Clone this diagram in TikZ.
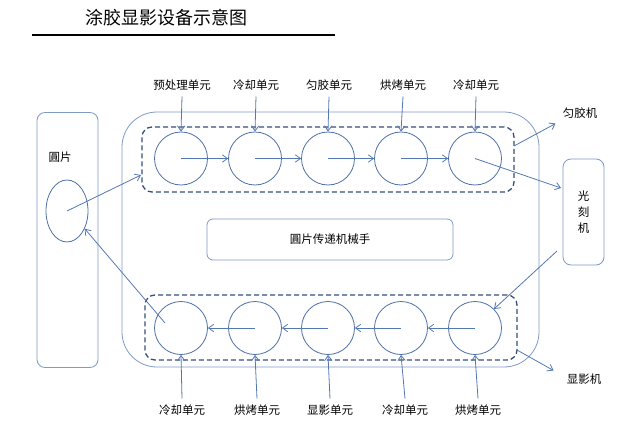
\documentclass[tikz,border=0pt]{standalone}
\usepackage{fontspec}
\newfontfamily\cjk{Noto Sans CJK SC}
\usepackage{xcolor}
\usetikzlibrary{arrows.meta,positioning,shapes.geometric}
\definecolor{ringc}{HTML}{4F6FA8}
\definecolor{arrc}{HTML}{5577B2}
\definecolor{framec}{HTML}{7E9AC6}
\definecolor{dashc}{HTML}{34507A}
\tikzset{
  ar/.style={-{Straight Barb[length=1.8mm,width=2.6mm]},arrc,thick},
  unit/.style={circle,draw=ringc,thick,minimum size=53pt,inner sep=0pt},
  lab/.style={font=\cjk\fontsize{11.5}{13}\selectfont,inner sep=1pt},
  frame/.style={draw=framec,thick,rounded corners=8pt},
  grp/.style={draw=dashc,line width=1.3pt,dash pattern=on 5pt off 3pt,rounded corners=10pt,minimum width=372pt,minimum height=65pt}
}
\begin{document}
\begin{tikzpicture}[x=1pt,y=-1pt]
\useasboundingbox (0,0) rectangle (640,428);
% title
\node[font=\cjk\fontsize{18}{20}\selectfont] (title) at (166,18) {涂胶显影设备示意图};
\draw[line width=1.8pt] (32,35)--(335,35);
% wafer holder
\node[frame,minimum width=61pt,minimum height=255pt] (hold) at (67.5,240) {};
\node[lab] (wlab) at (60,157) {圓片};
\node[ellipse,draw=ringc,thick,minimum width=42pt,minimum height=62pt] (wf) at (67,211) {};
% main machine
\node[draw=framec,thick,rounded corners=35pt,minimum width=417pt,minimum height=255pt] (main) at (330.5,239.5) {};
\node[grp] (tgrp) at (328,159.5) {};
\node[grp] (bgrp) at (331,327.5) {};
\node[frame,rounded corners=6pt,minimum width=246pt,minimum height=41pt,lab] (robot) at (330,239.5) {圓片传递机械手};
% litho
\node[frame,minimum width=41pt,minimum height=106pt,lab,align=center] (litho) at (583.5,212) {光\\[3pt]刻\\[3pt]机};
% coater units
\node[unit] (t1) at (181,158.5) {};
\node[unit] (t2) at (255,158.5) {};
\node[unit] (t3) at (328,158.5) {};
\node[unit] (t4) at (401,158.5) {};
\node[unit] (t5) at (475,158.5) {};
\node[lab] (tl1) at (182,85) {预处理单元};
\node[lab] (tl2) at (256,85) {冷却单元};
\node[lab] (tl3) at (329,85) {匀胶单元};
\node[lab] (tl4) at (403,85) {烘烤单元};
\node[lab] (tl5) at (476,85) {冷却单元};
% developer units
\node[unit] (b1) at (181,328) {};
\node[unit] (b2) at (255,328) {};
\node[unit] (b3) at (328,328) {};
\node[unit] (b4) at (401,328) {};
\node[unit] (b5) at (475,328) {};
\node[lab] (bl1) at (182,410) {冷却单元};
\node[lab] (bl2) at (257,410) {烘烤单元};
\node[lab] (bl3) at (330,410) {显影单元};
\node[lab] (bl4) at (405,410) {冷却单元};
\node[lab] (bl5) at (478,410) {烘烤单元};
% machine names
\node[lab] (coat) at (580,113) {匀胶机};
\node[lab] (devl) at (584,379) {显影机};
% helper points
\coordinate (tin) at (141,175);
\coordinate (wout) at (165,323);
\coordinate (lin) at (561,188);
\coordinate (lout) at (557,251);
\coordinate (cfrom) at (514,146);
\coordinate (dfrom) at (517,350);
% arrows
\draw[ar] (tl1.south) ++(0,5) -- (t1.north);
\draw[ar] (tl2.south) ++(0,5) -- (t2.north);
\draw[ar] (tl3.south) ++(0,5) -- (t3.north);
\draw[ar] (tl4.south) ++(0,5) -- (t4.north);
\draw[ar] (tl5.south) ++(0,5) -- (t5.north);
\draw[ar] (t1.center) -- (t2.west);
\draw[ar] (t2.center) -- (t3.west);
\draw[ar] (t3.center) -- (t4.west);
\draw[ar] (t4.center) -- (t5.west);
\draw[ar] (bl1.north) ++(0,-5) -- (b1.south);
\draw[ar] (bl2.north) ++(0,-5) -- (b2.south);
\draw[ar] (bl3.north) ++(0,-5) -- (b3.south);
\draw[ar] (bl4.north) ++(0,-5) -- (b4.south);
\draw[ar] (bl5.north) ++(0,-5) -- (b5.south);
\draw[ar] (b2.center) -- (b1.east);
\draw[ar] (b3.center) -- (b2.east);
\draw[ar] (b4.center) -- (b3.east);
\draw[ar] (b5.center) -- (b4.east);
\draw[ar] (wf.center) -- (tin);
\draw[ar] (wout) -- (wf.-45);
\draw[ar] (t5.center) -- (lin);
\draw[ar] (lout) -- (b5.45);
\draw[ar] (cfrom) -- ([shift={(-6,4)}]coat.south west);
\draw[ar] (dfrom) -- ([shift={(-12,-2)}]devl.north west);
\end{tikzpicture}
\end{document}
